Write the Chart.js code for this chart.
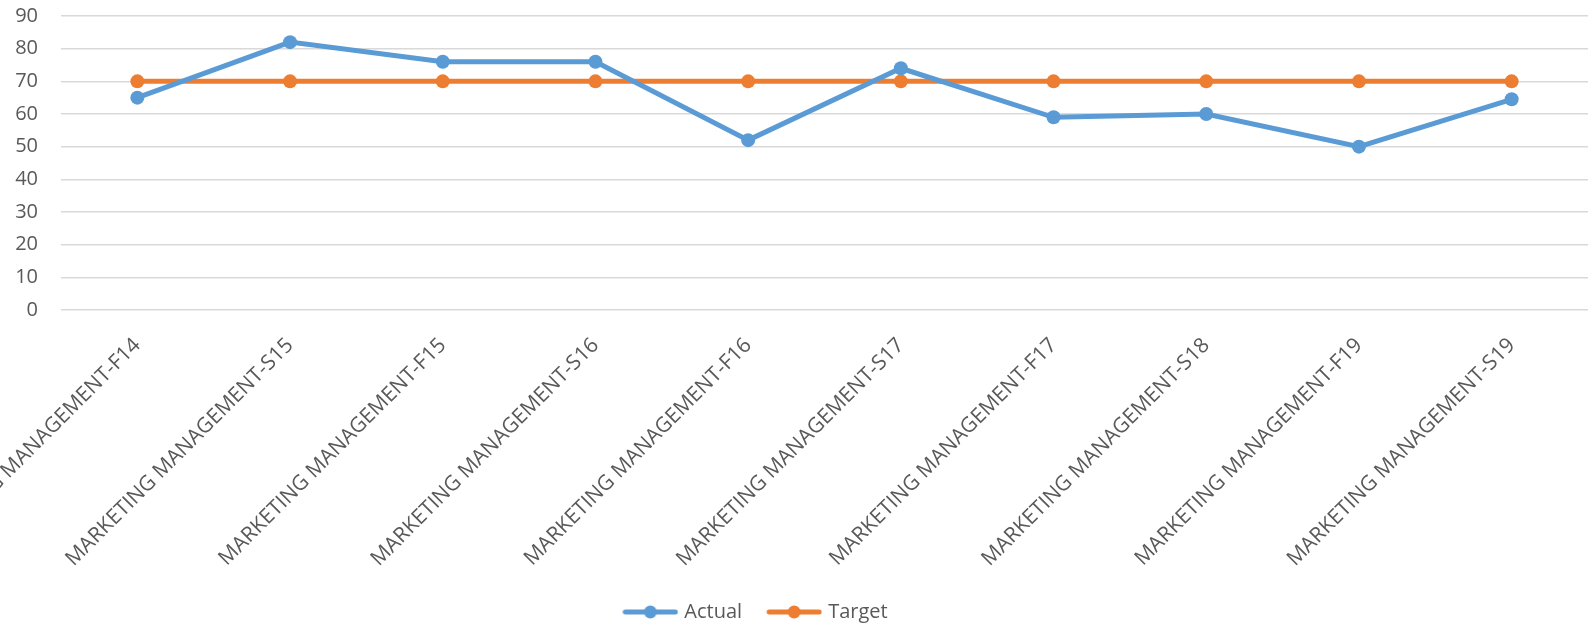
<!DOCTYPE html>
<html>
<head>
<meta charset="utf-8">
<script src="https://cdn.jsdelivr.net/npm/chart.js@4/dist/chart.umd.min.js"></script>
<style>
  html,body{margin:0;padding:0;background:#fff;}
  #wrap{width:1595px;height:628px;}
</style>
</head>
<body>
<div id="wrap"><canvas id="lineChart" width="1595" height="628"></canvas></div>
<script>
/* ---------------- data ---------------- */

const terms = [
  "MARKETING MANAGEMENT-F14","MARKETING MANAGEMENT-S15","MARKETING MANAGEMENT-F15",
  "MARKETING MANAGEMENT-S16","MARKETING MANAGEMENT-F16","MARKETING MANAGEMENT-S17",
  "MARKETING MANAGEMENT-F17","MARKETING MANAGEMENT-S18","MARKETING MANAGEMENT-F19",
  "MARKETING MANAGEMENT-S19"
];
const actual = [65, 82, 76, 76, 52, 74, 59, 60, 50, 64.5];
const target = [70, 70, 70, 70, 70, 70, 70, 70, 70, 70];
const yTicks = [0, 10, 20, 30, 40, 50, 60, 70, 80, 90];

const BLUE = "#5b9bd5";
const ORANGE = "#ed7d31";
const TXT = "#595959";

/* legend swatch: line with a dot in the middle */
function swatch(color){
  const c = document.createElement("canvas");
  c.width = 56; c.height = 16;
  const g = c.getContext("2d");
  g.strokeStyle = color;
  g.lineWidth = 5;
  g.lineCap = "round";
  g.beginPath(); g.moveTo(3,8); g.lineTo(53,8); g.stroke();
  g.fillStyle = color;
  g.beginPath(); g.arc(28,8,6.5,0,Math.PI*2); g.fill();
  return c;
}
const swatches = [swatch(BLUE), swatch(ORANGE)];

// legend in the original sits a bit left of the canvas centre
const legendShift = {
  id:'legendShift',
  afterLayout(chart){
    const lg = chart.legend;
    if(lg){ lg.left -= 38; lg.right -= 38; }
  }
};

Chart.defaults.font.family = "'Open Sans', sans-serif";
Chart.defaults.font.size = 20;
Chart.defaults.color = TXT;

const ctx = document.getElementById("lineChart");

new Chart(ctx,{
  type:'line',
  data:{
    labels: terms,
    datasets:[
      {label:'Actual', data:actual, borderColor:BLUE, backgroundColor:BLUE,
       borderWidth:5, pointRadius:7, pointHoverRadius:7, pointBorderWidth:0, tension:0},
      {label:'Target', data:target, borderColor:ORANGE, backgroundColor:ORANGE,
       borderWidth:5, pointRadius:7, pointHoverRadius:7, pointBorderWidth:0, tension:0}
    ]
  },
  options:{
    responsive:false,
    animation:false,
    layout:{padding:{top:16, right:5, bottom:-4, left:0}},
    plugins:{
      tooltip:{enabled:false},
      legend:{
        position:'bottom',
        labels:{
          usePointStyle:true,
          pointStyleWidth:48,
          padding:28,
          color:TXT,
          font:{size:20},
          generateLabels:(chart)=>chart.data.datasets.map((ds,i)=>({
            text:ds.label,
            pointStyle:swatches[i],
            fontColor:TXT,
            hidden:false,
            lineWidth:0,
            datasetIndex:i
          }))
        }
      }
    },
    scales:{
      x:{
        offset:true,
        grid:{display:false, drawTicks:false},
        border:{display:false},
        ticks:{maxRotation:45, minRotation:45, autoSkip:false, padding:23, color:TXT, font:{size:21}},
        afterFit:(s)=>{ s.paddingLeft = 0; s.paddingRight = 0; s.paddingTop = 0; s.paddingBottom = 0; s.height = 264; }
      },
      y:{
        min:0, max:90,
        afterBuildTicks:(s)=>{ s.ticks = yTicks.map(v=>({value:v})); },
        grid:{color:"#d9d9d9", lineWidth:1.5, drawTicks:false},
        border:{display:false},
        ticks:{padding:23, color:TXT, font:{size:20}},
        afterFit:(s)=>{ s.width = 61; s.paddingTop = 0; s.paddingBottom = 0; }
      }
    }
  },
  plugins:[legendShift]
});
</script>
</body>
</html>
